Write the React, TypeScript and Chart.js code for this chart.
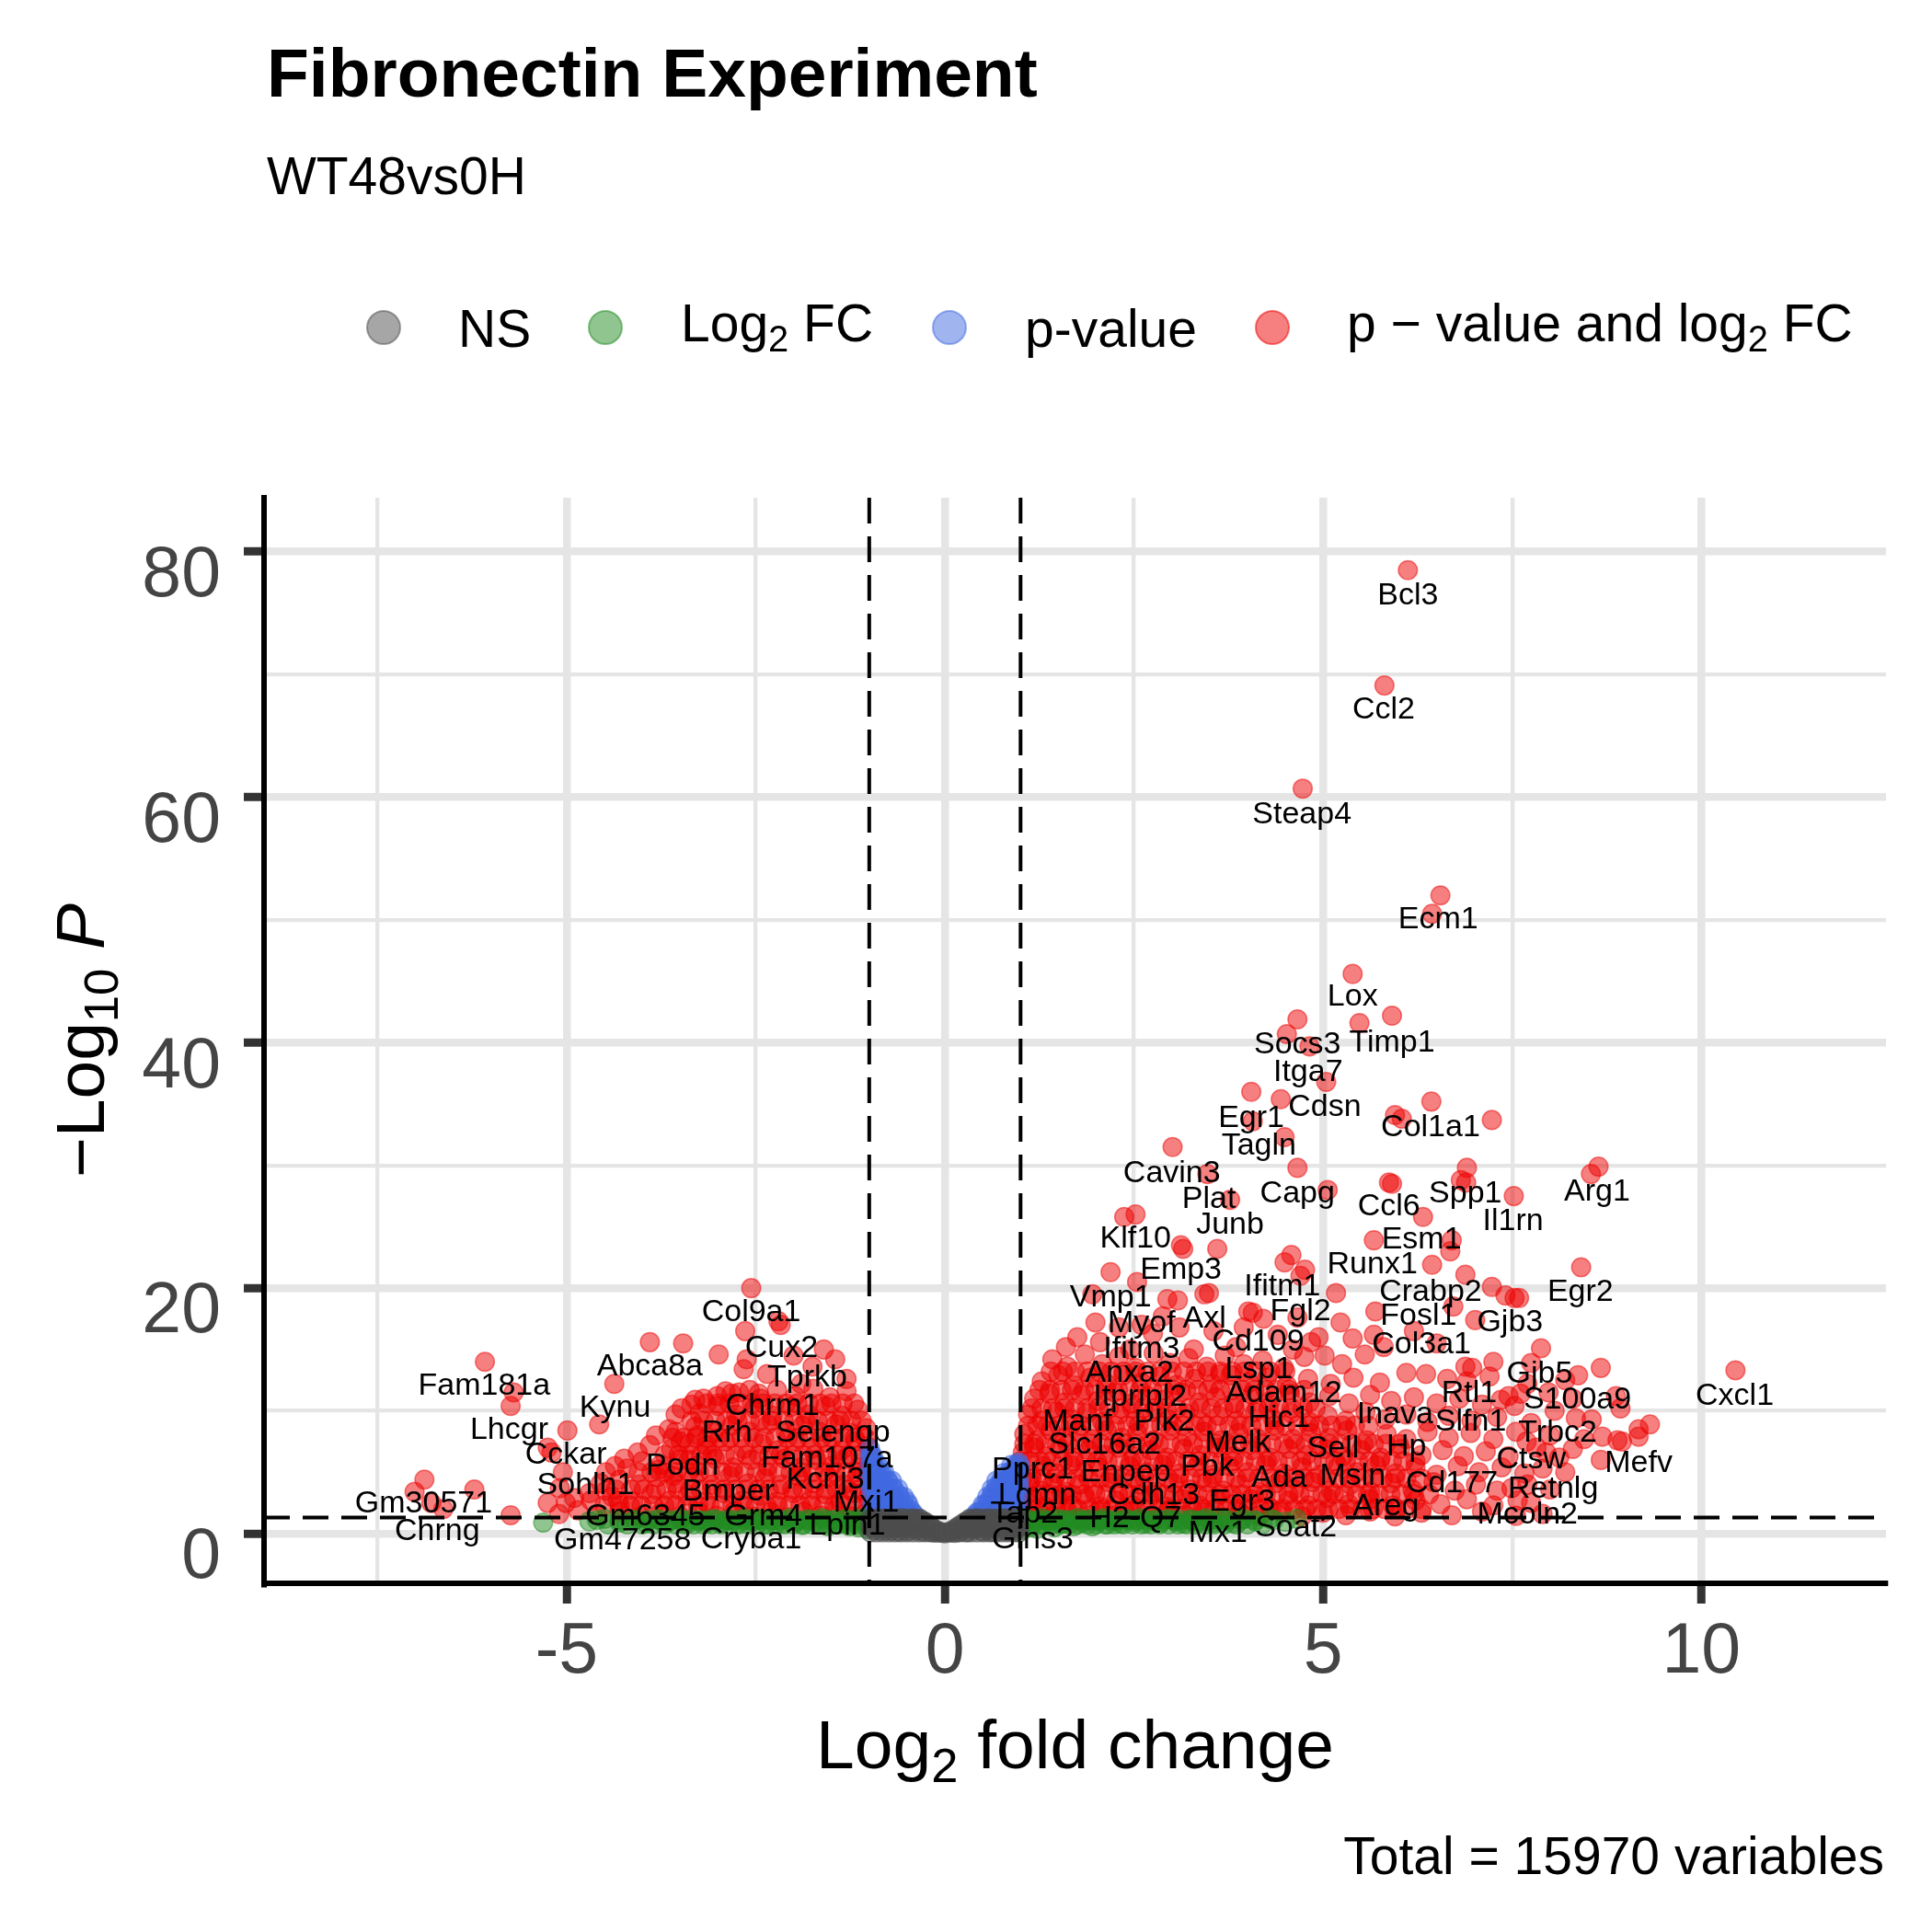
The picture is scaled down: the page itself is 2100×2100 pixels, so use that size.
import { useRef, useEffect } from "react";
import Chart from "chart.js/auto";

// ---- data (log2 fold change, -log10 p) ----
const nsPoints = [
  [0.0, 0.02], [0.05, 0.1], [-0.05, 0.08], [0.09, 0.22], [-0.09, 0.2], [0.13, 0.05], [-0.13, 0.07],
  [0.13, 0.38], [-0.13, 0.35], [0.17, 0.55], [-0.17, 0.52], [0.2, 0.15], [-0.2, 0.13], [0.21, 0.72],
  [-0.21, 0.75], [0.25, 0.42], [-0.25, 0.45], [0.27, 0.95], [-0.27, 0.98], [0.3, 0.12], [-0.3, 0.16],
  [0.31, 0.62], [-0.31, 0.65], [0.33, 1.15], [-0.34, 1.2], [0.38, 0.35], [-0.38, 0.3], [0.39, 0.88],
  [-0.39, 0.85], [0.42, 1.25], [-0.43, 1.24], [0.46, 0.58], [-0.46, 0.62], [0.5, 0.18], [-0.5, 0.2],
  [0.51, 1.05], [-0.51, 1.02], [0.55, 0.45], [-0.56, 0.48], [0.57, 1.25], [-0.58, 1.26], [0.61, 0.15],
  [-0.61, 0.17], [0.62, 0.85], [-0.63, 0.88], [0.66, 0.5], [-0.67, 0.52], [0.68, 1.2], [-0.69, 1.22],
  [0.72, 0.2], [-0.72, 0.22], [0.73, 0.9], [-0.74, 0.92], [0.77, 0.55], [-0.78, 0.58], [0.79, 1.25],
  [-0.8, 1.24], [0.83, 0.2], [-0.83, 0.24], [0.84, 0.95], [-0.85, 0.93], [0.88, 0.6], [-0.88, 0.62],
  [0.9, 1.2], [-0.9, 1.22], [0.93, 0.25], [-0.93, 0.28], [0.95, 0.9], [-0.95, 0.92], [0.98, 0.55],
  [-0.98, 0.6], [0.99, 1.25], [-0.99, 1.24],
];
// the solid grey "V": rows of points (y level, x positions)
const nsCoreY = [0.1, 0.5, 0.9, 1.22];
const nsCoreX = [
  [-0.98, -0.9, -0.82, -0.74, -0.66, -0.58, -0.5, -0.42, -0.34, -0.26, -0.18, -0.1, -0.03, 0.04, 0.11, 0.19,
    0.27, 0.35, 0.43, 0.51, 0.59, 0.67, 0.75, 0.83, 0.91, 0.98],
  [-0.98, -0.9, -0.82, -0.74, -0.66, -0.58, -0.5, -0.42, -0.34, -0.26, -0.19, 0.19, 0.26, 0.34, 0.42, 0.5,
    0.58, 0.66, 0.74, 0.82, 0.9, 0.98],
  [-0.97, -0.89, -0.81, -0.73, -0.65, -0.57, -0.49, -0.41, -0.33, -0.26, 0.26, 0.33, 0.41, 0.49, 0.57, 0.65,
    0.73, 0.81, 0.89, 0.97],
  [-0.96, -0.88, -0.8, -0.72, -0.64, -0.56, -0.48, -0.4, -0.33, 0.33, 0.4, 0.48, 0.56, 0.64, 0.72, 0.8, 0.88, 0.96],
];

const fcPoints = [
  [1.02, 0.3], [1.05, 0.8], [1.08, 1.2], [1.12, 0.5], [1.18, 1.0], [1.22, 0.4], [1.28, 1.25], [1.3, 0.7],
  [1.38, 1.0], [1.45, 0.5], [1.5, 1.2], [1.55, 0.8], [1.62, 1.1], [1.7, 0.6], [1.75, 1.25], [1.82, 0.9],
  [1.9, 1.15], [1.95, 0.6], [2.02, 1.0], [2.1, 1.25], [2.15, 0.75], [2.25, 1.05], [2.32, 0.8], [2.4, 1.2],
  [2.5, 0.95], [2.58, 1.25], [2.65, 0.8], [2.75, 1.1], [2.85, 0.9], [2.95, 1.2], [3.05, 1.0], [3.15, 0.8],
  [3.25, 1.15], [3.35, 0.95], [3.45, 1.25], [3.55, 0.9], [3.7, 1.1], [3.8, 0.85], [3.95, 1.2], [4.1, 1.0],
  [4.3, 1.2], [4.5, 0.95], [4.65, 1.2],
  [-1.02, 0.35], [-1.06, 0.9], [-1.1, 1.25], [-1.14, 0.5], [-1.2, 1.0], [-1.26, 0.6], [-1.32, 1.2],
  [-1.4, 0.8], [-1.48, 1.1], [-1.55, 0.6], [-1.62, 1.25], [-1.7, 0.9], [-1.8, 1.15], [-1.88, 0.7],
  [-1.96, 1.0], [-2.05, 1.25], [-2.15, 0.85], [-2.25, 1.1], [-2.35, 0.75], [-2.45, 1.2], [-2.55, 0.95],
  [-2.65, 1.25], [-2.75, 0.8], [-2.85, 1.1], [-2.95, 0.9], [-3.05, 1.2], [-3.15, 0.85], [-3.25, 1.05],
  [-3.4, 0.8], [-3.5, 1.2], [-3.65, 0.95], [-3.8, 1.15], [-3.95, 0.85], [-4.1, 1.1], [-4.3, 0.9],
  [-4.5, 1.2], [-4.7, 1.0], [-5.31, 0.9],
];
const fcCoreY = [0.75, 1.1];
const fcCoreX = [
  [1.04, 1.16, 1.28, 1.4, 1.52, 1.64, 1.76, 1.88, 2.0, 2.12, 2.24, 2.36, 2.48, 2.6, 2.72, 2.84, 2.96, 3.08,
    3.2, 3.32, 3.44, 3.56, 3.7, 3.85, 4.0, 4.2,
    -1.04, -1.16, -1.28, -1.4, -1.52, -1.64, -1.76, -1.88, -2.0, -2.12, -2.24, -2.36, -2.48, -2.6, -2.72,
    -2.84, -2.96, -3.08, -3.2, -3.32, -3.44, -3.56, -3.7, -3.85, -4.0, -4.2, -4.45],
  [1.1, 1.22, 1.34, 1.46, 1.58, 1.7, 1.82, 1.94, 2.06, 2.18, 2.3, 2.42, 2.54, 2.66, 2.78, 2.9, 3.02, 3.14,
    3.26, 3.38, 3.5, 3.62, 3.76, 3.92, 4.1, 4.35,
    -1.1, -1.22, -1.34, -1.46, -1.58, -1.7, -1.82, -1.94, -2.06, -2.18, -2.3, -2.42, -2.54, -2.66, -2.78,
    -2.9, -3.02, -3.14, -3.26, -3.38, -3.5, -3.62, -3.76, -3.92, -4.1, -4.3, -4.6],
];

const pPoints = [
  [0.4, 1.45], [0.45, 1.8], [0.5, 1.5], [0.52, 2.3], [0.56, 1.95], [0.59, 2.8], [0.61, 1.6], [0.63, 3.3],
  [0.66, 2.4], [0.68, 3.8], [0.7, 1.7], [0.73, 3.0], [0.75, 4.2], [0.78, 2.2], [0.8, 3.6], [0.82, 4.7],
  [0.85, 1.6], [0.86, 2.8], [0.88, 4.1], [0.9, 5.2], [0.92, 3.4], [0.94, 2.2], [0.95, 4.6], [0.97, 5.8],
  [0.98, 1.7], [0.98, 3.9], [0.99, 5.2],
  [-0.4, 1.5], [-0.45, 1.9], [-0.5, 2.6], [-0.52, 1.6], [-0.56, 2.2], [-0.6, 3.1], [-0.62, 1.7],
  [-0.65, 2.6], [-0.68, 3.7], [-0.7, 1.9], [-0.73, 3.1], [-0.75, 4.3], [-0.78, 2.3], [-0.8, 3.7],
  [-0.83, 4.9], [-0.85, 1.7], [-0.87, 2.9], [-0.88, 4.3], [-0.9, 5.6], [-0.92, 3.5], [-0.94, 2.3],
  [-0.95, 4.9], [-0.96, 5.8], [-0.97, 6.4], [-0.98, 1.6], [-0.98, 3.9], [-0.99, 6.9],
];
const pCoreY = [1.7, 2.35, 3.0, 3.65, 4.3, 4.95, 5.6, 6.3];
const pCoreX = [
  [0.42, 0.48, 0.54, 0.6, 0.66, 0.72, 0.78, 0.84, 0.9, 0.96, -0.42, -0.48, -0.54, -0.6, -0.66, -0.72, -0.78,
    -0.84, -0.9, -0.96],
  [0.5, 0.56, 0.62, 0.68, 0.74, 0.8, 0.86, 0.92, 0.98, -0.48, -0.54, -0.6, -0.66, -0.72, -0.78, -0.84, -0.9, -0.96],
  [0.56, 0.62, 0.68, 0.74, 0.8, 0.86, 0.92, 0.98, -0.54, -0.6, -0.66, -0.72, -0.78, -0.84, -0.9, -0.96],
  [0.62, 0.68, 0.74, 0.8, 0.86, 0.92, 0.98, -0.62, -0.68, -0.74, -0.8, -0.86, -0.92, -0.98],
  [0.68, 0.74, 0.8, 0.86, 0.92, 0.98, -0.7, -0.76, -0.82, -0.88, -0.94, -0.99],
  [0.78, 0.84, 0.9, 0.96, -0.8, -0.86, -0.92, -0.98],
  [0.88, 0.94, 0.99, -0.88, -0.94, -0.99],
  [-0.95, -0.99],
];

// significant by both p-value and log2 FC: isolated hits
const bothOutliers = [
  [6.12, 78.5], [5.81, 69.1], [4.73, 60.7], [6.55, 52.0], [6.44, 50.5], [5.39, 45.6], [5.91, 42.2],
  [5.48, 41.6], [4.66, 41.9], [4.52, 40.7], [4.82, 39.7], [5.04, 36.8], [4.05, 36.0], [4.44, 35.4],
  [6.43, 35.2], [5.95, 34.1], [6.04, 33.8], [7.23, 33.7], [4.07, 33.6], [4.49, 32.3], [3.01, 31.5],
  [4.66, 29.8], [6.9, 29.8], [6.82, 28.8], [6.89, 28.6], [5.87, 28.6], [5.91, 28.5], [5.06, 28.0],
  [7.52, 27.5], [3.47, 29.3], [3.77, 27.2], [2.37, 25.8], [2.52, 26.0], [6.32, 25.8], [5.67, 23.9],
  [6.7, 23.9], [6.68, 23.0], [3.12, 23.5], [3.15, 23.2], [3.6, 23.2], [4.58, 22.7], [4.49, 22.1],
  [4.76, 21.5], [4.7, 21.0], [6.44, 21.9], [6.88, 21.1], [2.19, 21.3], [2.54, 20.5], [7.23, 20.1],
  [7.41, 19.4], [7.53, 19.2], [5.17, 19.6], [3.49, 19.6], [3.43, 19.5], [3.08, 19.0], [2.94, 19.1],
  [1.95, 19.5], [4.07, 18.0], [4.01, 18.1], [4.66, 17.6], [5.23, 17.2], [5.39, 15.9], [5.69, 18.1],
  [6.72, 18.5], [7.01, 17.4], [7.88, 15.1], [5.67, 16.2], [4.94, 16.0], [4.84, 15.6], [5.02, 14.5],
  [6.97, 13.5], [6.88, 13.6], [6.1, 13.1], [6.36, 13.0], [6.64, 12.6], [7.45, 11.2], [4.21, 17.5],
  [2.88, 17.7], [1.99, 17.2], [3.29, 15.0], [3.85, 15.2], [3.64, 13.0],
  [1.75, 16.0], [2.05, 15.6], [2.3, 16.8], [2.6, 17.0], [1.6, 15.2], [2.45, 15.0], [2.75, 16.3],
  [3.1, 16.8], [3.55, 16.5], [3.95, 16.8], [4.4, 16.2], [4.6, 15.0], [5.8, 15.2], [6.2, 16.5], [6.5, 15.5],
  [8.64, 29.9], [8.54, 29.3], [8.41, 21.7], [7.59, 19.2], [8.67, 13.5], [8.37, 12.9], [10.45, 13.3],
  [8.87, 11.2], [8.93, 10.2], [9.32, 8.9], [9.17, 8.5], [9.17, 7.9], [8.95, 7.5], [8.89, 7.6],
  [8.69, 7.9], [8.67, 6.0], [8.34, 9.4], [8.06, 10.0], [7.98, 11.5], [7.61, 11.4], [7.53, 10.4],
  [8.12, 6.2], [7.82, 7.0], [7.69, 7.5], [7.49, 3.7], [7.57, 2.7],
  [-2.56, 20.0], [-2.64, 16.5], [-2.66, 13.4], [-2.62, 14.2], [-2.17, 17.0], [-3.9, 15.6], [-3.46, 15.5],
  [-2.99, 14.6], [-4.37, 12.2], [-4.57, 8.9], [-4.99, 8.4], [-5.25, 7.0], [-5.2, 6.6], [-6.08, 14.0],
  [-5.7, 11.5], [-5.74, 10.4], [-6.88, 4.4], [-7.01, 3.4], [-6.79, 2.5], [-6.63, 2.0], [-6.22, 3.6],
  [-5.74, 1.5], [-4.06, 6.6], [-4.24, 6.1], [-4.36, 5.5], [-4.48, 5.0], [-5.05, 5.0], [-5.09, 3.7],
  [-5.01, 2.5], [-5.25, 2.5], [-3.56, 9.7], [-3.65, 8.5], [-3.35, 10.5], [-3.19, 11.0], [-3.01, 11.2],
  [-2.82, 11.4], [-2.72, 11.5], [-2.58, 11.7], [-2.46, 11.4], [-3.49, 7.5], [-3.27, 8.0], [-3.15, 7.2],
  [-3.79, 5.2], [-3.59, 4.7], [-3.39, 6.0], [-4.68, 2.7], [-4.48, 3.5], [-4.32, 2.7],
  [-2.2, 17.3], [-1.6, 15.0], [-1.45, 14.2], [-1.75, 13.6], [-2.0, 14.5], [-1.3, 12.6], [-2.35, 13.0],
  [-1.9, 12.2],
];

// up-regulated block, loose rows
const bothUp = [
  [1.42, 14.2], [1.62, 13.6], [1.85, 14.6], [2.08, 13.8], [2.3, 14.4], [2.52, 13.5], [2.76, 14.7],
  [2.98, 13.9], [3.22, 14.3], [3.46, 13.6], [3.7, 14.5], [3.95, 13.8], [4.2, 14.1], [4.48, 13.5],
  [4.75, 14.4], [5.25, 13.8], [5.55, 14.6], [7.25, 14.0], [7.75, 13.9],
  [1.28, 12.4], [1.5, 12.9], [1.7, 12.1], [1.92, 12.7], [2.14, 12.2], [2.36, 12.9], [2.6, 12.3],
  [2.84, 12.8], [3.06, 12.1], [3.3, 12.6], [3.54, 12.2], [3.78, 12.9], [4.02, 12.3], [4.26, 12.7],
  [4.52, 12.1], [4.8, 12.6], [5.1, 12.2], [5.4, 12.7], [5.75, 12.3], [6.9, 12.4], [7.2, 12.8],
  [7.7, 12.2], [8.2, 12.5],
  [1.18, 11.0], [1.38, 11.4], [1.58, 10.7], [1.8, 11.3], [2.02, 10.8], [2.24, 11.5], [2.46, 10.6],
  [2.68, 11.2], [2.9, 10.9], [3.12, 11.5], [3.36, 10.7], [3.58, 11.1], [3.82, 10.6], [4.06, 11.3],
  [4.3, 10.8], [4.56, 11.4], [4.82, 10.7], [5.08, 11.2], [5.34, 10.6], [5.62, 11.3], [5.9, 10.8],
  [6.2, 11.1], [6.5, 10.6], [6.8, 11.0], [7.1, 10.5], [7.35, 10.9], [8.3, 11.0],
  [1.1, 9.7], [1.28, 9.2], [1.48, 9.9], [1.68, 9.3], [1.88, 9.8], [2.08, 9.1], [2.3, 9.7], [2.52, 9.2],
  [2.74, 9.9], [2.96, 9.3], [3.18, 9.8], [3.4, 9.1], [3.62, 9.6], [3.86, 9.2], [4.1, 9.9], [4.34, 9.3],
  [4.58, 9.8], [4.82, 9.1], [5.06, 9.6], [5.3, 9.2], [5.56, 9.9], [5.82, 9.3], [6.1, 9.7], [6.38, 9.1],
  [6.66, 9.6], [6.96, 9.2], [7.3, 9.5], [7.75, 9.0], [8.55, 9.3],
  [1.05, 8.1], [1.22, 7.6], [1.4, 8.4], [1.58, 7.8], [1.76, 8.3], [1.95, 7.7], [2.14, 8.4], [2.34, 7.8],
  [2.54, 8.2], [2.76, 7.6], [2.98, 8.4], [3.2, 7.9], [3.42, 8.3], [3.64, 7.6], [3.88, 8.2], [4.12, 7.8],
  [4.36, 8.4], [4.6, 7.7], [4.84, 8.2], [5.08, 7.8], [5.32, 8.4], [5.58, 7.6], [5.84, 8.1], [6.1, 7.7],
  [6.38, 8.3], [6.66, 7.8], [6.95, 8.2], [7.25, 7.7], [7.55, 8.3], [8.0, 8.0], [8.45, 7.7],
  [1.03, 6.6], [1.18, 7.0], [1.34, 6.3], [1.52, 6.9], [1.7, 6.2], [1.9, 6.8], [2.1, 6.4], [2.3, 7.0],
  [2.5, 6.3], [2.72, 6.8], [2.94, 6.2], [3.16, 6.9], [3.38, 6.4], [3.6, 7.0], [3.82, 6.3], [4.06, 6.8],
  [4.3, 6.2], [4.54, 6.9], [4.78, 6.4], [5.02, 6.9], [5.26, 6.3], [5.5, 6.8], [5.76, 6.2], [6.02, 6.9],
  [6.3, 6.4], [6.58, 6.8], [6.86, 6.3], [7.15, 6.7], [7.45, 6.3], [7.95, 6.6], [8.3, 6.9],
  [1.0, 5.2], [1.14, 4.8], [1.3, 5.5], [1.48, 4.9], [1.66, 5.6], [1.84, 5.0], [2.04, 5.4], [2.24, 4.8],
  [2.44, 5.5], [2.66, 5.0], [2.88, 5.6], [3.1, 4.9], [3.32, 5.4], [3.54, 4.8], [3.76, 5.5], [4.0, 5.0],
  [4.24, 5.6], [4.48, 4.9], [4.72, 5.4], [4.96, 4.8], [5.2, 5.5], [5.44, 5.0], [5.7, 5.6], [5.96, 4.9],
  [6.22, 5.4], [6.5, 4.8], [6.78, 5.5], [7.06, 5.0], [7.36, 5.4], [7.66, 4.9], [7.9, 5.3], [8.2, 5.0],
  [1.0, 3.7], [1.12, 4.2], [1.26, 3.5], [1.42, 4.1], [1.6, 3.4], [1.78, 4.0], [1.96, 3.6], [2.16, 4.2],
  [2.36, 3.5], [2.58, 4.0], [2.8, 3.4], [3.02, 4.1], [3.24, 3.6], [3.46, 4.2], [3.68, 3.5], [3.9, 4.0],
  [4.14, 3.4], [4.38, 4.1], [4.62, 3.6], [4.86, 4.2], [5.1, 3.5], [5.36, 4.0], [5.62, 3.4], [5.9, 4.1],
  [6.18, 3.6], [6.46, 4.2], [6.74, 3.5], [7.02, 4.0], [7.3, 3.5], [7.7, 4.0], [8.0, 3.6],
  [1.02, 2.4], [1.16, 2.9], [1.32, 2.2], [1.5, 2.8], [1.68, 2.3], [1.86, 2.9], [2.06, 2.2], [2.26, 2.7],
  [2.48, 2.3], [2.7, 2.9], [2.92, 2.2], [3.14, 2.8], [3.36, 2.3], [3.58, 2.9], [3.8, 2.4], [4.04, 2.8],
  [4.28, 2.2], [4.54, 2.7], [4.8, 2.3], [5.06, 2.9], [5.34, 2.4], [5.62, 2.8], [5.92, 2.3], [6.22, 2.7],
  [6.55, 2.4], [6.9, 2.8], [7.25, 2.3], [7.75, 2.5],
  [1.08, 1.5], [1.24, 1.8], [1.42, 1.4], [1.62, 1.7], [1.82, 1.35], [2.02, 1.8], [2.24, 1.45],
  [2.46, 1.75], [2.7, 1.4], [2.94, 1.8], [3.18, 1.5], [3.42, 1.7], [3.66, 1.35], [3.9, 1.75],
  [4.16, 1.45], [4.44, 1.8], [4.72, 1.4], [5.0, 1.7], [5.3, 1.5], [5.62, 1.8], [5.95, 1.4], [6.3, 1.7],
  [6.7, 1.5], [7.1, 1.8], [7.55, 1.45], [7.9, 1.6],
];
// up-regulated solid core: rows (y level, x positions)
const upCoreY = [2.0, 3.2, 4.5, 5.9, 7.3, 8.8, 10.2, 11.7, 13.2];
const upCoreX = [
  [1.03, 1.17, 1.31, 1.47, 1.61, 1.76, 1.92, 2.06, 2.21, 2.37, 2.51, 2.66, 2.82, 2.96, 3.11, 3.27, 3.41, 3.56,
    3.72, 3.86, 4.01, 4.17, 4.31, 4.46, 4.62, 4.76, 4.91, 5.07, 5.21, 5.36, 5.52, 5.66, 5.81, 5.97, 6.11, 6.3],
  [1.0, 1.1, 1.24, 1.39, 1.54, 1.68, 1.84, 1.99, 2.13, 2.29, 2.44, 2.58, 2.74, 2.89, 3.03, 3.19, 3.34, 3.48,
    3.64, 3.79, 3.93, 4.09, 4.24, 4.38, 4.54, 4.69, 4.83, 4.99, 5.14, 5.28, 5.44, 5.59, 5.73, 5.89, 6.04, 6.2, 6.4],
  [1.02, 1.15, 1.3, 1.45, 1.6, 1.74, 1.9, 2.05, 2.19, 2.35, 2.5, 2.64, 2.8, 2.95, 3.09, 3.25, 3.4, 3.54, 3.7,
    3.85, 3.99, 4.15, 4.3, 4.44, 4.6, 4.75, 4.89, 5.05, 5.2, 5.34, 5.5, 5.65, 5.79, 5.95, 6.1, 6.3],
  [1.0, 1.12, 1.26, 1.41, 1.56, 1.7, 1.86, 2.01, 2.15, 2.31, 2.46, 2.6, 2.76, 2.91, 3.05, 3.21, 3.36, 3.5, 3.66,
    3.81, 3.95, 4.11, 4.26, 4.4, 4.56, 4.71, 4.85, 5.01, 5.16, 5.3, 5.46, 5.61, 5.75, 5.91, 6.06, 6.22],
  [1.05, 1.18, 1.33, 1.48, 1.62, 1.78, 1.93, 2.07, 2.23, 2.38, 2.52, 2.68, 2.83, 2.97, 3.13, 3.28, 3.42, 3.58,
    3.73, 3.87, 4.03, 4.18, 4.32, 4.48, 4.63, 4.77, 4.93, 5.08, 5.22, 5.38, 5.53, 5.67, 5.83, 6.0],
  [1.1, 1.22, 1.36, 1.51, 1.66, 1.8, 1.96, 2.11, 2.25, 2.41, 2.56, 2.7, 2.86, 3.01, 3.15, 3.31, 3.46, 3.6,
    3.76, 3.91, 4.05, 4.21, 4.36, 4.5, 4.66, 4.81, 4.95, 5.11, 5.26, 5.42, 5.6],
  [1.15, 1.28, 1.43, 1.58, 1.72, 1.88, 2.03, 2.17, 2.33, 2.48, 2.62, 2.78, 2.93, 3.07, 3.23, 3.38, 3.52, 3.68,
    3.83, 3.97, 4.13, 4.28, 4.42, 4.58, 4.73, 4.9],
  [1.25, 1.39, 1.54, 1.68, 1.84, 1.99, 2.13, 2.29, 2.44, 2.58, 2.74, 2.89, 3.03, 3.19, 3.34, 3.48, 3.64, 3.79,
    3.93, 4.09, 4.24, 4.38, 4.55, 4.75],
  [1.4, 1.56, 1.72, 1.88, 2.04, 2.2, 2.36, 2.52, 2.68, 2.84, 3.0, 3.16, 3.32, 3.48, 3.64, 3.8, 3.96, 4.12, 4.3, 4.5],
];

// down-regulated block, loose rows
const bothDown = [
  [-1.3, 11.6], [-1.52, 11.1], [-1.74, 11.8], [-1.98, 11.2], [-2.22, 11.7], [-2.44, 11.0], [-2.9, 11.6],
  [-3.3, 10.9],
  [-1.15, 10.1], [-1.36, 9.6], [-1.58, 10.4], [-1.8, 9.7], [-2.04, 10.3], [-2.28, 9.6], [-2.52, 10.2],
  [-2.76, 9.7], [-3.0, 10.4], [-3.24, 9.8], [-3.48, 10.2],
  [-1.04, 8.6], [-1.24, 8.2], [-1.44, 8.9], [-1.66, 8.3], [-1.88, 8.8], [-2.1, 8.2], [-2.34, 8.9],
  [-2.58, 8.3], [-2.82, 8.8], [-3.06, 8.2], [-3.3, 8.7], [-3.56, 8.3], [-3.82, 8.0],
  [-1.02, 7.1], [-1.18, 7.5], [-1.36, 6.8], [-1.56, 7.4], [-1.76, 6.9], [-1.98, 7.5], [-2.2, 6.8],
  [-2.42, 7.3], [-2.66, 6.9], [-2.9, 7.5], [-3.14, 6.8], [-3.38, 7.3], [-3.62, 6.9], [-3.9, 7.2],
  [-1.0, 5.7], [-1.14, 5.4], [-1.32, 6.1], [-1.5, 5.5], [-1.7, 6.0], [-1.9, 5.4], [-2.12, 6.1],
  [-2.34, 5.5], [-2.56, 6.0], [-2.8, 5.4], [-3.04, 6.1], [-3.28, 5.5], [-3.52, 6.0], [-3.76, 5.6],
  [-4.0, 5.9], [-4.2, 5.3],
  [-1.0, 4.3], [-1.16, 4.7], [-1.34, 4.0], [-1.54, 4.6], [-1.74, 4.1], [-1.94, 4.7], [-2.16, 4.0],
  [-2.38, 4.5], [-2.6, 4.1], [-2.84, 4.7], [-3.08, 4.0], [-3.32, 4.6], [-3.56, 4.1], [-3.8, 4.6],
  [-4.04, 4.0], [-4.3, 4.4], [-4.55, 4.1],
  [-1.02, 2.9], [-1.2, 3.3], [-1.38, 2.6], [-1.58, 3.2], [-1.78, 2.7], [-2.0, 3.3], [-2.22, 2.6],
  [-2.44, 3.1], [-2.68, 2.7], [-2.92, 3.3], [-3.16, 2.6], [-3.4, 3.1], [-3.64, 2.7], [-3.88, 3.2],
  [-4.12, 2.6], [-4.4, 3.0], [-4.7, 3.3], [-4.9, 2.9],
  [-1.06, 1.6], [-1.24, 1.4], [-1.44, 1.9], [-1.64, 1.45], [-1.86, 1.8], [-2.08, 1.35], [-2.3, 1.75],
  [-2.54, 1.4], [-2.78, 1.85], [-3.02, 1.45], [-3.26, 1.8], [-3.5, 1.4], [-3.76, 1.7], [-4.02, 1.4],
  [-4.3, 1.8], [-4.6, 1.5], [-4.85, 1.9], [-5.1, 1.6],
];
const downCoreY = [2.3, 3.6, 5.0, 6.4, 7.8, 9.2, 10.6];
const downCoreX = [
  [-1.02, -1.16, -1.31, -1.46, -1.6, -1.76, -1.91, -2.05, -2.21, -2.36, -2.5, -2.66, -2.81, -2.95, -3.11,
    -3.26, -3.4, -3.56, -3.71, -3.85, -4.01, -4.16, -4.3, -4.5],
  [-1.0, -1.13, -1.28, -1.43, -1.57, -1.73, -1.88, -2.02, -2.18, -2.33, -2.47, -2.63, -2.78, -2.92, -3.08,
    -3.23, -3.37, -3.53, -3.68, -3.82, -3.98, -4.15, -4.35],
  [-1.02, -1.15, -1.3, -1.45, -1.59, -1.75, -1.9, -2.04, -2.2, -2.35, -2.49, -2.65, -2.8, -2.94, -3.1, -3.25,
    -3.39, -3.55, -3.7, -3.88, -4.05],
  [-1.0, -1.12, -1.27, -1.42, -1.56, -1.72, -1.87, -2.01, -2.17, -2.32, -2.46, -2.62, -2.77, -2.91, -3.07,
    -3.22, -3.36, -3.52, -3.7],
  [-1.05, -1.19, -1.34, -1.49, -1.63, -1.79, -1.94, -2.08, -2.24, -2.39, -2.53, -2.69, -2.84, -2.98, -3.14,
    -3.29, -3.45, -3.6],
  [-1.1, -1.24, -1.39, -1.54, -1.68, -1.84, -1.99, -2.13, -2.29, -2.44, -2.58, -2.74, -2.89, -3.03, -3.19, -3.35],
  [-1.2, -1.35, -1.5, -1.65, -1.8, -1.95, -2.1, -2.25, -2.4, -2.55, -2.7, -2.85, -3.0, -3.15],
];

// gene labels (text anchor in data units)
const geneNames = [
  "Bcl3", "Ccl2", "Steap4", "Ecm1", "Lox", "Socs3", "Timp1", "Itga7", "Cdsn", "Egr1", "Col1a1", "Tagln",
  "Cavin3", "Capg", "Plat", "Spp1", "Ccl6", "Il1rn", "Arg1", "Junb", "Klf10", "Esm1", "Emp3", "Runx1",
  "Vmp1", "Ifitm1", "Crabp2", "Egr2", "Myof", "Axl", "Fgl2", "Fosl1", "Gjb3", "Cd109", "Col3a1",
  "Ifitm3", "Lsp1", "Gjb5", "Anxa2", "Adam12", "Rtl1", "S100a9", "Cxcl1", "Itpripl2", "Inava", "Slfn1",
  "Hic1", "Plk2", "Manf", "Trbc2", "Melk", "Slc16a2", "Sell", "Hp", "Ctsw", "Mefv", "Pbk", "Enpep",
  "Pprc1", "Msln", "Ada", "Cd177", "Retnlg", "Cdh13", "Lgmn", "Egr3", "Areg", "Mcoln2", "Tap2", "H2-Q7",
  "Soat2", "Mx1", "Gins3",
  "Col9a1", "Cux2", "Abca8a", "Tprkb", "Fam181a", "Chrm1", "Kynu", "Lhcgr", "Rrh", "Selenop", "Cckar",
  "Fam107a", "Podn", "Kcnj3", "Sohlh1", "Bmper", "Mxi1", "Gm30571", "Gm6345", "Grm4", "Lpin1", "Chrng",
  "Gm47258", "Cryba1",
];
const geneLabelX = [
  6.12, 5.8, 4.72, 6.52, 5.39, 4.66, 5.91, 4.8, 5.02, 4.05, 6.42, 4.15,
  3.0, 4.66, 3.49, 6.88, 5.87, 7.51, 8.62, 3.77, 2.52, 6.3, 3.12, 5.65,
  2.19, 4.46, 6.42, 8.4, 2.6, 3.43, 4.7, 6.26, 7.47, 4.14, 6.3,
  2.6, 4.15, 7.86, 2.44, 4.48, 6.93, 8.36, 10.44, 2.58, 5.95, 6.95,
  4.42, 2.9, 1.75, 8.1, 3.87, 2.11, 5.13, 6.1, 7.75, 9.17, 3.47, 2.39,
  1.16, 5.39, 4.42, 6.7, 8.04, 2.76, 1.22, 3.93, 5.83, 7.7, 1.05, 2.52,
  4.64, 3.61, 1.16,
  -2.56, -2.16, -3.9, -1.82, -6.09, -2.28, -4.36, -5.76, -2.88, -1.48, -5.01,
  -1.56, -3.47, -1.58, -4.75, -2.86, -1.04, -6.89, -3.96, -2.4, -1.29, -6.71,
  -4.26, -2.56,
];
const geneLabelY = [
  76.4, 67.1, 58.6, 50.0, 43.7, 39.8, 40.0, 37.6, 34.7, 33.8, 33.1, 31.6,
  29.3, 27.7, 27.2, 27.7, 26.6, 25.4, 27.8, 25.1, 24.0, 23.9, 21.5, 21.9,
  19.2, 20.1, 19.7, 19.7, 17.1, 17.5, 18.1, 17.7, 17.2, 15.6, 15.4,
  15.0, 13.4, 13.0, 13.1, 11.4, 11.4, 10.9, 11.2, 11.1, 9.7, 9.1,
  9.4, 9.1, 9.1, 8.2, 7.4, 7.2, 6.9, 7.1, 6.0, 5.7, 5.4, 5.0,
  5.2, 4.7, 4.5, 4.1, 3.6, 3.1, 3.1, 2.6, 2.2, 1.5, 1.6, 1.2,
  0.5, 0.0, -0.5,
  18.0, 15.1, 13.6, 12.7, 12.0, 10.4, 10.2, 8.4, 8.2, 8.2, 6.4,
  6.1, 5.5, 4.4, 3.9, 3.4, 2.5, 2.4, 1.4, 1.4, 0.6, 0.2,
  -0.6, -0.5,
];

const xTicks = [-7.5, -5, -2.5, 0, 2.5, 5, 7.5, 10];
const xTickLabels = ["", "-5", "", "0", "", "5", "", "10"];
const yTicks = [0, 10, 20, 30, 40, 50, 60, 70, 80];
const yTickLabels = ["0", "", "20", "", "40", "", "60", "", "80"];

const legendLabels = ["NS", "Log2 FC", "p-value", "p - value and log2 FC"];
const FC_CUT = 1;
const P_CUT = 1.30103;

const FONT = '"Liberation Sans", Arial, Helvetica, sans-serif';
const COLORS = ["rgba(77,77,77,0.5)", "rgba(34,139,34,0.5)", "rgba(65,105,225,0.5)", "rgba(238,0,0,0.5)"];

type Part = { t: string; sub?: boolean; italic?: boolean; bold?: boolean };

function setFont(ctx: CanvasRenderingContext2D, size: number, p: Part) {
  ctx.font = `${p.italic ? "italic " : ""}${p.bold ? "bold " : ""}${size}px ${FONT}`;
}

function drawRich(ctx: CanvasRenderingContext2D, parts: Part[], x: number, y: number, size: number, align: string) {
  let w = 0;
  parts.forEach((p) => {
    setFont(ctx, p.sub ? size * 0.7 : size, p);
    w += ctx.measureText(p.t).width;
  });
  let cx = align === "left" ? x : align === "center" ? x - w / 2 : x - w;
  ctx.textAlign = "left";
  ctx.textBaseline = "alphabetic";
  parts.forEach((p) => {
    setFont(ctx, p.sub ? size * 0.7 : size, p);
    ctx.fillText(p.t, cx, p.sub ? y + size * 0.2 : y);
    cx += ctx.measureText(p.t).width;
  });
}

const rows = (ys: number[], xs: number[][]) => ys.flatMap((y, i) => xs[i].map((x) => [x, y]));
const toXY = (arr: number[][]) => arr.map((d) => ({ x: d[0], y: d[1] }));
const isMajorX = (v: number) => Math.abs(v % 5) < 1e-6;
const isMajorY = (v: number) => Math.abs(v % 20) < 1e-6;

const overlayPlugin = {
  id: "overlay",
  afterDatasetsDraw(chart: any) {
    const { ctx, chartArea, scales } = chart;
    const xs = scales.x;
    const ys = scales.y;
    ctx.save();
    // threshold lines
    ctx.strokeStyle = "#000";
    ctx.lineWidth = 4;
    ctx.setLineDash([28, 14]);
    [-FC_CUT, FC_CUT].forEach((v) => {
      const px = xs.getPixelForValue(v);
      ctx.beginPath();
      ctx.moveTo(px, chartArea.top);
      ctx.lineTo(px, chartArea.bottom);
      ctx.stroke();
    });
    const py = ys.getPixelForValue(P_CUT);
    ctx.beginPath();
    ctx.moveTo(chartArea.left, py);
    ctx.lineTo(chartArea.right, py);
    ctx.stroke();
    ctx.setLineDash([]);
    // gene labels
    ctx.fillStyle = "#000";
    ctx.font = `34px ${FONT}`;
    ctx.textAlign = "center";
    ctx.textBaseline = "middle";
    geneNames.forEach((g, i) => {
      ctx.fillText(g, xs.getPixelForValue(geneLabelX[i]), ys.getPixelForValue(geneLabelY[i]));
    });
    ctx.restore();
  },
  afterDraw(chart: any) {
    const { ctx, chartArea } = chart;
    ctx.save();
    ctx.fillStyle = "#000";
    drawRich(ctx, [{ t: "Fibronectin Experiment", bold: true }], 290, 105, 75, "left");
    drawRich(ctx, [{ t: "WT48vs0H" }], 290, 211, 57, "left");

    // legend
    const keyX = [417, 658, 1032, 1383];
    const textX = [498, 740, 1114, 1464];
    const legendParts: Part[][] = [
      [{ t: legendLabels[0] }],
      [{ t: "Log" }, { t: "2", sub: true }, { t: " FC" }],
      [{ t: legendLabels[2] }],
      [{ t: "p \u2212 value and log" }, { t: "2", sub: true }, { t: " FC" }],
    ];
    const baseY = [377, 371, 377, 371];
    keyX.forEach((kx, i) => {
      ctx.beginPath();
      ctx.arc(kx, 356, 18, 0, Math.PI * 2);
      ctx.fillStyle = COLORS[i];
      ctx.fill();
      ctx.lineWidth = 2;
      ctx.strokeStyle = COLORS[i];
      ctx.stroke();
      ctx.fillStyle = "#000";
      drawRich(ctx, legendParts[i], textX[i], baseY[i], 57, "left");
    });

    // axis titles
    const midX = (chartArea.left + chartArea.right) / 2;
    drawRich(ctx, [{ t: "Log" }, { t: "2", sub: true }, { t: " fold change" }], midX, 1922, 75, "center");
    ctx.save();
    ctx.translate(113, (chartArea.top + chartArea.bottom) / 2);
    ctx.rotate(-Math.PI / 2);
    drawRich(ctx, [{ t: "\u2212Log" }, { t: "10", sub: true }, { t: " " }, { t: "P", italic: true }], 0, 0, 75, "center");
    ctx.restore();

    drawRich(ctx, [{ t: "Total = 15970 variables" }], 2048, 2037, 57, "right");
    ctx.restore();
  },
};

const VolcanoChart = () => {
  const canvasRef = useRef<HTMLCanvasElement>(null);

  useEffect(() => {
    const ctx = canvasRef.current?.getContext("2d");
    if (!ctx) return;

    const mk = (label: string, arr: number[][], color: string) => ({
      label,
      data: toXY(arr),
      backgroundColor: color,
      borderColor: color,
      borderWidth: 1.5,
      pointRadius: 10.3,
      pointHoverRadius: 10.3,
    });

    const chart = new Chart(ctx, {
      type: "scatter",
      data: {
        datasets: [
          mk(legendLabels[0], [...nsPoints, ...rows(nsCoreY, nsCoreX)], COLORS[0]),
          mk(legendLabels[1], [...fcPoints, ...rows(fcCoreY, fcCoreX)], COLORS[1]),
          mk(legendLabels[2], [...pPoints, ...rows(pCoreY, pCoreX)], COLORS[2]),
          mk(
            legendLabels[3],
            [...bothOutliers, ...bothUp, ...rows(upCoreY, upCoreX), ...bothDown, ...rows(downCoreY, downCoreX)],
            COLORS[3]
          ),
        ],
      },
      options: {
        animation: false,
        responsive: false,
        devicePixelRatio: 1,
        events: [],
        layout: { padding: { top: 541, left: 87, right: 50, bottom: 229 } },
        plugins: {
          legend: { display: false },
          title: { display: false },
          tooltip: { enabled: false },
        },
        scales: {
          x: {
            type: "linear",
            min: -9.0,
            max: 12.44,
            afterBuildTicks: (s: any) => {
              s.ticks = xTicks.map((v) => ({ value: v }));
            },
            afterFit: (s: any) => {
              s.height = 150;
            },
            border: { display: true, color: "#000", width: 6 },
            grid: {
              color: "#E5E5E5",
              lineWidth: (c: any) => (isMajorX(c.tick?.value ?? 0) ? 8.5 : 4.3),
              drawTicks: true,
              tickLength: 22,
              tickWidth: 9,
              tickColor: (c: any) => (isMajorX(c.tick?.value ?? 1) ? "#333333" : "rgba(0,0,0,0)"),
            },
            ticks: {
              autoSkip: false,
              maxRotation: 0,
              padding: 8,
              color: "#444444",
              font: { family: FONT, size: 77 },
              callback: (_v: any, i: number) => xTickLabels[i],
            },
          },
          y: {
            type: "linear",
            min: -4.05,
            max: 84.4,
            afterBuildTicks: (s: any) => {
              s.ticks = yTicks.map((v) => ({ value: v }));
            },
            afterFit: (s: any) => {
              s.width = 200;
            },
            border: { display: true, color: "#000", width: 6 },
            grid: {
              color: "#E5E5E5",
              lineWidth: (c: any) => (isMajorY(c.tick?.value ?? 0) ? 8.5 : 4.3),
              drawTicks: true,
              tickLength: 22,
              tickWidth: 9,
              tickColor: (c: any) => (isMajorY(c.tick?.value ?? 1) ? "#333333" : "rgba(0,0,0,0)"),
            },
            ticks: {
              autoSkip: false,
              padding: 25,
              labelOffset: 27,
              color: "#444444",
              font: { family: FONT, size: 77 },
              callback: (_v: any, i: number) => yTickLabels[i],
            },
          },
        },
      },
      plugins: [overlayPlugin],
    } as any);

    return () => {
      chart.destroy();
    };
  }, []);

  return <canvas ref={canvasRef} width={2100} height={2100} style={{ width: 2100, height: 2100, display: "block" }} />;
};

export default function App() {
  return (
    <div style={{ position: "absolute", left: 0, top: 0, width: 2100, height: 2100, background: "#fff" }}>
      <VolcanoChart />
    </div>
  );
}
